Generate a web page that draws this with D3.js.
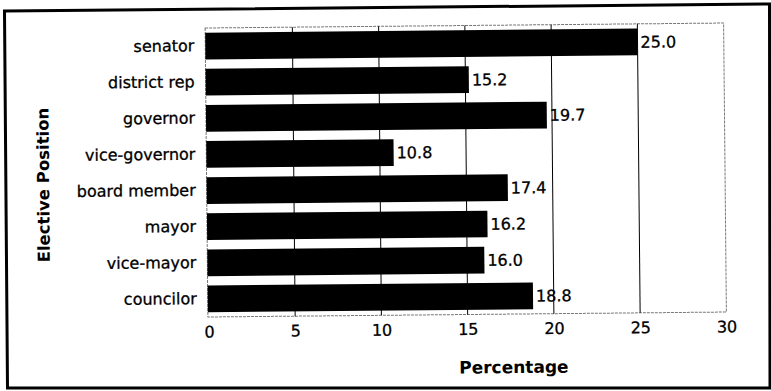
<!DOCTYPE html>
<html>
<head>
<meta charset="utf-8">
<script src="https://cdn.jsdelivr.net/npm/d3@7"></script>
<style>
  html, body { margin: 0; padding: 0; background: #fff; }
  svg { display: block; font-family: "DejaVu Sans", Verdana, sans-serif; }
  .lbl { stroke: #000; stroke-width: 0.3px; }
</style>
</head>
<body>
<svg id="chart" width="771" height="391"></svg>
<script>
// Share of respondents by elective position
const positions = ["senator", "district rep", "governor", "vice-governor",
                   "board member", "mayor", "vice-mayor", "councilor"];
const percentages = [25.0, 15.2, 19.7, 10.8, 17.4, 16.2, 16.0, 18.8];
const xTicks = [0, 5, 10, 15, 20, 25, 30];

const svg = d3.select("#chart");
const plot = { left: 207.5, right: 725, top: 25.5, bottom: 314.5 };

// Outer frame (page is slightly skewed on the sheet)
svg.append("path")
  .attr("d", "M4.5,11 L769.5,4 L770,388 L7.5,388 Z")
  .attr("fill", "none").attr("stroke", "#000").attr("stroke-width", 3);

// Everything inside the frame sits on a slightly tilted sheet
const g = svg.append("g").attr("transform", "rotate(-0.55, 467, 170)");

const x = d3.scaleLinear().domain([0, 30]).range([plot.left, plot.right]);
const y = d3.scaleBand().domain(positions)
  .range([plot.top, plot.bottom]).paddingInner(0.26).paddingOuter(0.13);

// Plot area border
g.append("rect")
  .attr("x", plot.left - 1).attr("y", plot.top)
  .attr("width", plot.right - plot.left + 1).attr("height", plot.bottom - plot.top)
  .attr("fill", "none").attr("stroke", "#777").attr("stroke-width", 1)
  .attr("stroke-dasharray", "3,1");

// Vertical gridlines
g.append("g")
  .selectAll("line")
  .data(xTicks.filter(t => t > 0 && t < 30))
  .join("line")
  .attr("x1", d => x(d)).attr("x2", d => x(d))
  .attr("y1", plot.top).attr("y2", plot.bottom)
  .attr("stroke", "#000").attr("stroke-width", 1);

// Bars
g.append("g")
  .selectAll("rect")
  .data(positions)
  .join("rect")
  .attr("x", x(0) - 1)
  .attr("y", d => y(d))
  .attr("width", (d, i) => x(percentages[i]) - x(0) + 1)
  .attr("height", y.bandwidth())
  .attr("fill", "#000");

// Value labels
g.append("g")
  .selectAll("text")
  .data(positions)
  .join("text")
  .attr("class", "lbl")
  .attr("x", (d, i) => x(percentages[i]) + 3)
  .attr("y", d => y(d) + y.bandwidth() / 2)
  .attr("dy", "0.36em")
  .attr("font-size", 16)
  .attr("fill", "#000")
  .text((d, i) => percentages[i].toFixed(1));

// Category axis
const yAxis = d3.axisLeft(y).tickSize(0).tickPadding(12);
const gy = g.append("g").attr("transform", `translate(${plot.left},0)`).call(yAxis);
gy.select(".domain").remove();
gy.selectAll("text").attr("class", "lbl").attr("font-size", 16).attr("fill", "#000")
  .attr("font-family", "DejaVu Sans, Verdana, sans-serif");

// Value axis
const xAxis = d3.axisBottom(x).tickValues(xTicks).tickSize(0).tickPadding(9)
  .tickFormat(d3.format("d"));
const gx = g.append("g").attr("transform", `translate(0,${plot.bottom})`).call(xAxis);
gx.select(".domain").remove();
gx.selectAll("text").attr("class", "lbl").attr("font-size", 16).attr("fill", "#000")
  .attr("font-family", "DejaVu Sans, Verdana, sans-serif");

// Axis titles
g.append("text")
  .attr("x", 512).attr("y", 373.5)
  .attr("text-anchor", "middle")
  .attr("font-size", 17).attr("font-weight", "bold")
  .text("Percentage");

g.append("text")
  .attr("transform", "translate(49,181) rotate(-90)")
  .attr("text-anchor", "middle")
  .attr("font-size", 16.5).attr("font-weight", "bold")
  .text("Elective Position");
</script>
</body>
</html>
